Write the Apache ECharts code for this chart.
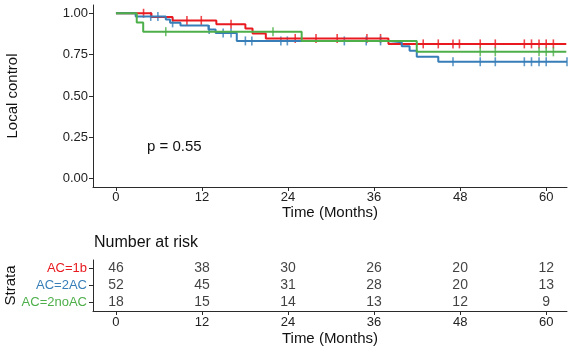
<!DOCTYPE html>
<html>
<head>
<meta charset="utf-8">
<script src="https://cdn.jsdelivr.net/npm/echarts@6/dist/echarts.min.js"></script>
<style>
  html, body { margin: 0; padding: 0; background: #fff; }
  #chart { width: 572px; height: 352px; }
</style>
</head>
<body>
<div id="chart"></div>
<script>
// KM local control by strata, with number-at-risk table
const months = [0, 12, 24, 36, 48, 60]
const yTicks = [0, 0.25, 0.5, 0.75, 1]
const strata = ['AC=1b', 'AC=2AC', 'AC=2noAC']
const COLORS = ['#E8191F', '#377EB8', '#4DAF4A']

// step times and survival after each step
const redTimes = [0, 4.95, 7.9, 14.0, 18.05, 19.05, 20.9, 38.0]
const redSurv = [1, 0.978, 0.957, 0.934, 0.908, 0.878, 0.848, 0.815]
const redCensor = [3.85, 9.9, 11.9, 16.05, 25.0, 27.9, 30.85, 35.0, 36.9, 42.85, 44.95, 47.0, 47.9,
  50.8, 52.9, 56.95, 57.95, 59.0, 60.0, 61.0]
const redEnd = 62.8

const blueTimes = [0, 2.75, 6.95, 7.55, 9.0, 12.9, 13.9, 16.85, 38.0, 39.85, 40.95, 41.95, 44.95]
const blueSurv = [1, 0.981, 0.962, 0.942, 0.926, 0.902, 0.881, 0.833, 0.825, 0.8, 0.773, 0.737, 0.707]
const blueCensor = [4.85, 5.85, 7.9, 13.0, 14.95, 16.05, 18.05, 18.95, 23.0, 23.9, 31.85, 34.9, 36.9,
  47.0, 50.8, 52.9, 56.95, 57.95, 59.0, 60.0, 62.9]
const blueEnd = 62.9

const greenTimes = [0, 2.9, 3.8, 25.9, 41.95]
const greenSurv = [1, 0.944, 0.889, 0.833, 0.767]
const greenCensor = [6.95, 21.9, 50.8, 52.9, 59.0, 60.0, 61.0]
const greenEnd = 62.8

// number at risk at 0,12,...,60
const riskRed = [46, 38, 30, 26, 20, 12]
const riskBlue = [52, 45, 31, 28, 20, 13]
const riskGreen = [18, 15, 14, 13, 12, 9]

const X_MIN = -3.2
const X_MAX = 62.9
const FONT = 'Liberation Sans, Arial, sans-serif'
const AXIS_COLOR = '#2b2b2b'

function survAt(times, surv, t) {
  let s = surv[0]
  for (let i = 0; i < times.length; i++) if (times[i] <= t) s = surv[i]
  return s
}

function stepSeries(times, surv, end, color) {
  const data = times.map((t, i) => [t, surv[i]])
  data.push([end, surv[surv.length - 1]])
  return {
    type: 'line', step: 'end', xAxisIndex: 0, yAxisIndex: 0,
    data, symbol: 'none', silent: true,
    lineStyle: { color, width: 2 },
  }
}

function censorSeries(times, surv, censor, color) {
  return {
    type: 'scatter', xAxisIndex: 0, yAxisIndex: 0, silent: true,
    symbol: 'rect', symbolSize: [1.6, 9],
    itemStyle: { color },
    data: censor.map((t) => [t, survAt(times, surv, t)]),
  }
}

function riskSeries(values, row) {
  return {
    type: 'scatter', xAxisIndex: 1, yAxisIndex: 1, silent: true,
    symbolSize: 0,
    label: { show: true, position: 'inside', color: '#111', fontSize: 14, fontFamily: FONT,
      formatter: (p) => String(p.value[2]) },
    data: months.map((m, i) => [m, row, values[i]]),
  }
}

const axisCommon = {
  axisLine: { show: true, onZero: false, lineStyle: { color: AXIS_COLOR, width: 1 } },
  axisTick: { show: true, length: 4, lineStyle: { color: AXIS_COLOR } },
  splitLine: { show: false },
  nameMoveOverlap: false,
}

const chart = echarts.init(document.getElementById('chart'), null, { renderer: 'canvas' })
chart.setOption({
  animation: false,
  textStyle: { fontFamily: FONT },
  grid: [
    { left: 93, top: 5, right: 5, height: 182, containLabel: false, outerBoundsMode: 'none' },
    { left: 93, top: 260, right: 5, height: 51, containLabel: false, outerBoundsMode: 'none' },
  ],
  xAxis: [
    {
      ...axisCommon, gridIndex: 0, type: 'value', min: X_MIN, max: X_MAX,
      axisTick: { ...axisCommon.axisTick, customValues: months },
      axisLabel: { customValues: months, color: '#222', fontSize: 13, margin: 4 },
      name: 'Time (Months)', nameLocation: 'middle', nameGap: 18,
      nameTextStyle: { color: '#111', fontSize: 15 },
    },
    {
      ...axisCommon, gridIndex: 1, type: 'value', min: X_MIN, max: X_MAX,
      axisTick: { ...axisCommon.axisTick, customValues: months },
      axisLabel: { customValues: months, color: '#222', fontSize: 13, margin: 5 },
      name: 'Time (Months)', nameLocation: 'middle', nameGap: 20,
      nameTextStyle: { color: '#111', fontSize: 15 },
    },
  ],
  yAxis: [
    {
      ...axisCommon, gridIndex: 0, type: 'value', min: -0.05, max: 1.05,
      axisTick: { ...axisCommon.axisTick, customValues: yTicks },
      axisLabel: { customValues: yTicks, color: '#222', fontSize: 13, margin: 5,
        formatter: (v) => v.toFixed(2) },
      name: 'Local control', nameLocation: 'middle', nameGap: 73, nameRotate: 90,
      nameTextStyle: { color: '#111', fontSize: 15 },
    },
    {
      ...axisCommon, gridIndex: 1, type: 'category', data: strata.slice().reverse(),
      axisTick: { ...axisCommon.axisTick, alignWithLabel: true },
      axisLabel: { fontSize: 13, margin: 6,
        color: (v) => COLORS[strata.indexOf(v)] },
      name: 'Strata', nameLocation: 'middle', nameGap: 75, nameRotate: 90,
      nameTextStyle: { color: '#111', fontSize: 15 },
    },
  ],
  graphic: [
    { type: 'text', x: 147, y: 147,
      style: { text: 'p = 0.55', fontSize: 15, fontFamily: FONT, fill: '#111', verticalAlign: 'middle' } },
    { type: 'text', x: 94, y: 243,
      style: { text: 'Number at risk', fontSize: 16, fontFamily: FONT, fill: '#111', verticalAlign: 'middle' } },
  ],
  series: [
    stepSeries(redTimes, redSurv, redEnd, COLORS[0]),
    censorSeries(redTimes, redSurv, redCensor, COLORS[0]),
    stepSeries(blueTimes, blueSurv, blueEnd, COLORS[1]),
    censorSeries(blueTimes, blueSurv, blueCensor, COLORS[1]),
    stepSeries(greenTimes, greenSurv, greenEnd, COLORS[2]),
    censorSeries(greenTimes, greenSurv, greenCensor, COLORS[2]),
    riskSeries(riskRed, 'AC=1b'),
    riskSeries(riskBlue, 'AC=2AC'),
    riskSeries(riskGreen, 'AC=2noAC'),
  ],
})
</script>
</body>
</html>
